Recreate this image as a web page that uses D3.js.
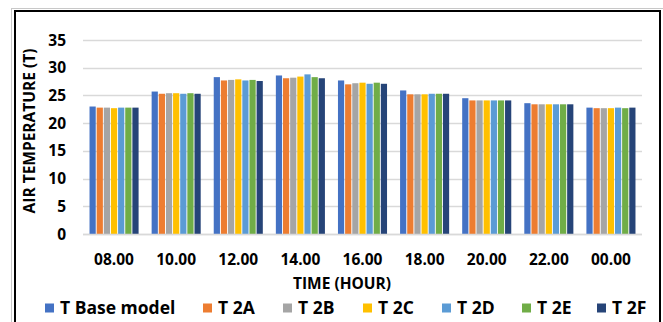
<!DOCTYPE html>
<html lang="en">
<head>
<meta charset="UTF-8" />
<title>Air temperature by hour</title>
<script src="https://d3js.org/d3.v7.min.js"></script>
<style>
  html, body { margin: 0; padding: 0; background: #fff; }
  svg { display: block; font-family: "Open Sans", Lato, sans-serif; font-weight: bold; }
</style>
</head>
<body>
<svg id="chart" width="663" height="322"></svg>
<script>
// data
const hours = ["08.00", "10.00", "12.00", "14.00", "16.00", "18.00", "20.00", "22.00", "00.00"];
const seriesNames = ["T Base model", "T 2A", "T 2B", "T 2C", "T 2D", "T 2E", "T 2F"];
const seriesColors = ["#4472C4", "#ED7D31", "#A5A5A5", "#FFC000", "#5B9BD5", "#70AD47", "#264478"];

const tBase = [23.0, 25.7, 28.3, 28.6, 27.7, 25.9, 24.5, 23.6, 22.8];
const t2A   = [22.8, 25.3, 27.7, 28.1, 27.0, 25.2, 24.1, 23.4, 22.7];
const t2B   = [22.8, 25.4, 27.8, 28.2, 27.2, 25.2, 24.1, 23.4, 22.7];
const t2C   = [22.7, 25.4, 27.9, 28.4, 27.3, 25.2, 24.1, 23.4, 22.7];
const t2D   = [22.8, 25.3, 27.7, 28.8, 27.1, 25.3, 24.1, 23.4, 22.8];
const t2E   = [22.8, 25.4, 27.8, 28.3, 27.3, 25.3, 24.1, 23.4, 22.7];
const t2F   = [22.8, 25.3, 27.6, 28.1, 27.1, 25.3, 24.1, 23.4, 22.8];

const yTicks = [0, 5, 10, 15, 20, 25, 30, 35];

const allSeries = [tBase, t2A, t2B, t2C, t2D, t2E, t2F];

const svg = d3.select("#chart");

// frame
svg.append("rect")
  .attr("x", 11.5).attr("y", 8.5).attr("width", 652).attr("height", 320)
  .attr("fill", "none").attr("stroke", "#c8c8c8").attr("stroke-width", 1);
svg.append("rect")
  .attr("x", 15).attr("y", 11).attr("width", 645).attr("height", 320)
  .attr("fill", "none").attr("stroke", "#000").attr("stroke-width", 2);

const plot = { left: 83, right: 642, top: 40, bottom: 234 };

const x = d3.scaleBand()
  .domain(hours)
  .range([plot.left, plot.right])
  .paddingInner(0.21)
  .paddingOuter(0.105);

const x1 = d3.scaleBand()
  .domain(seriesNames)
  .range([0, x.bandwidth()])
  .paddingInner(0.13);

const y = d3.scaleLinear()
  .domain([0, 35])
  .range([plot.bottom, plot.top]);

// gridlines
svg.append("g")
  .selectAll("line")
  .data(yTicks)
  .join("line")
  .attr("x1", plot.left).attr("x2", plot.right)
  .attr("y1", d => Math.round(y(d)) + 0.5)
  .attr("y2", d => Math.round(y(d)) + 0.5)
  .attr("stroke", "#d9d9d9")
  .attr("stroke-width", 1.3);

// y tick labels
svg.append("g")
  .selectAll("text")
  .data(yTicks)
  .join("text")
  .attr("x", 66)
  .attr("y", d => y(d))
  .attr("dy", "0.36em")
  .attr("text-anchor", "end")
  .attr("font-size", 15.5)
  .attr("fill", "#000")
  .text(d => d);

// bars
const rows = hours.map((h, i) => ({ hour: h, values: allSeries.map((s, j) => ({ name: seriesNames[j], value: s[i], color: seriesColors[j] })) }));

svg.append("g")
  .selectAll("g")
  .data(rows)
  .join("g")
  .attr("transform", d => `translate(${x(d.hour)},0)`)
  .selectAll("rect")
  .data(d => d.values)
  .join("rect")
  .attr("x", d => x1(d.name))
  .attr("width", x1.bandwidth())
  .attr("y", d => y(d.value))
  .attr("height", d => y(0) - y(d.value))
  .attr("fill", d => d.color);

// baseline
svg.append("line")
  .attr("x1", plot.left).attr("x2", plot.right)
  .attr("y1", y(0) + 0.5).attr("y2", y(0) + 0.5)
  .attr("stroke", "#d9d9d9").attr("stroke-width", 1.3);

// x tick labels
svg.append("g")
  .selectAll("text")
  .data(hours)
  .join("text")
  .attr("x", d => x(d) + x.bandwidth() / 2)
  .attr("y", 259)
  .attr("dy", "0.36em")
  .attr("text-anchor", "middle")
  .attr("font-size", 15.5)
  .attr("fill", "#000")
  .text(d => d);

// axis titles
svg.append("text")
  .attr("x", 342).attr("y", 283)
  .attr("dy", "0.36em")
  .attr("text-anchor", "middle")
  .attr("font-size", 15.5)
  .text("TIME (HOUR)");

svg.append("text")
  .attr("transform", "translate(29,131) rotate(-90)")
  .attr("dy", "0.36em")
  .attr("text-anchor", "middle")
  .attr("font-size", 15.5)
  .text("AIR TEMPERATURE (T)");

// legend
const legendX = [45, 203, 283, 363, 442, 522, 597];
const legend = svg.append("g")
  .selectAll("g")
  .data(seriesNames)
  .join("g")
  .attr("transform", (d, i) => `translate(${legendX[i]},308)`);

legend.append("rect")
  .attr("x", 0).attr("y", -4.5)
  .attr("width", 9).attr("height", 9)
  .attr("fill", (d, i) => seriesColors[i]);

legend.append("text")
  .attr("x", 15)
  .attr("dy", "0.36em")
  .attr("font-size", 17.5)
  .text(d => d);
</script>
</body>
</html>
